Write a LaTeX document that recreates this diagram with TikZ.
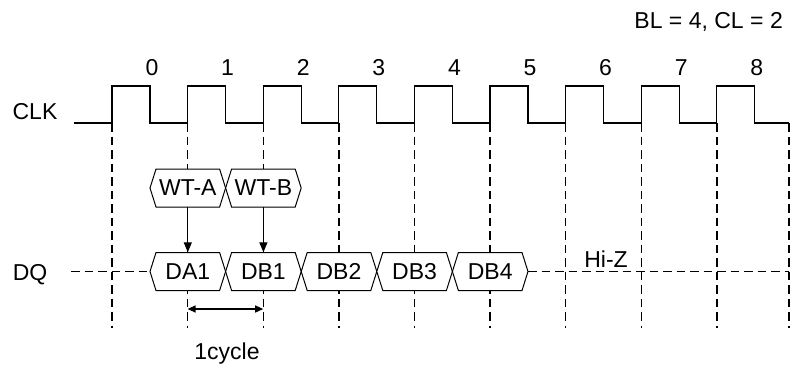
\documentclass[tikz,border=0pt]{standalone}
\usepackage{fontspec}
\setmainfont{Liberation Sans}
\usetikzlibrary{arrows.meta}
\newcommand\hexbox[5]{%
  \draw[box] ({#2},{#4}) -- ({#2+6},{#4-19}) -- ({#3-6},{#4-19}) -- ({#3},{#4})
    -- ({#3-6},{#4+19}) -- ({#2+6},{#4+19}) -- cycle;
  \node[lbl, minimum width={#3-#2}, minimum height=38pt] (#1) at ({(#2+#3)/2},{#4}) {#5};}
\begin{document}
\begin{tikzpicture}[x=1pt,y=-1pt,
  wave/.style={line width=1.2pt, line join=miter},
  gridln/.style={line width=1.4pt, dash pattern=on 8.5pt off 5pt},
  lbl/.style={font=\fontsize{23}{26}\selectfont, inner sep=0pt},
  box/.style={line width=1pt, fill=white},
  arr/.style={line width=1.3pt, -{Triangle[length=10pt,width=8pt]}},
  dbl/.style={line width=1.3pt, {Triangle[length=8pt,width=7pt]}-{Triangle[length=8pt,width=7pt]}},
]
\useasboundingbox (0,0) rectangle (790,370);
% clock
\draw[wave] (74,123) -- (112,123)
  \foreach \k in {0,...,7}{ -- ++(0,-37) -- ++(38,0) -- ++(0,37) -- ++(37.6,0)}
  -- ++(0,-37) -- ++(38,0) -- ++(0,37) -- (789,123);
% dashed grid
\foreach \k in {0,...,8}{
  \draw[gridln] ({112+75.6*\k},123) -- ++(0,205);
  \node[lbl, anchor=base] (n\k) at ({152+75.6*\k},75) {\k};
}
\draw[gridln] (789,123) -- (789,328);
% labels
\node[lbl, anchor=base east] (bl) at (783,28) {BL = 4, CL = 2};
\node[lbl, anchor=base] (clk) at (35,119) {CLK};
\node[lbl, anchor=base] (dq) at (30,280) {DQ};
\node[lbl, anchor=base] (hiz) at (606,267) {Hi-Z};
\node[lbl, anchor=base] (cyc) at (227,359) {1cycle};
% boxes
\hexbox{wta}{150}{225.6}{188}{WT-A}
\hexbox{wtb}{225.6}{301.2}{188}{WT-B}
\hexbox{da1}{150}{225.6}{271.5}{DA1}
\hexbox{db1}{225.6}{301.2}{271.5}{DB1}
\hexbox{db2}{301.2}{376.8}{271.5}{DB2}
\hexbox{db3}{376.8}{452.4}{271.5}{DB3}
\hexbox{db4}{452.4}{528}{271.5}{DB4}
% DQ dashed line
\coordinate (dqs) at (71,271.5);
\coordinate (dqe) at (789,271.5);
\draw[gridln] (dqs) -- (da1.west);
\draw[gridln] (db4.east) -- (dqe);
% arrows
\draw[arr] (wta.south) -- (da1.north);
\draw[arr] (wtb.south) -- (db1.north);
\coordinate (c1) at (187.6,309);
\coordinate (c2) at (263.2,309);
\draw[dbl] (c1) -- (c2);
\end{tikzpicture}
\end{document}
